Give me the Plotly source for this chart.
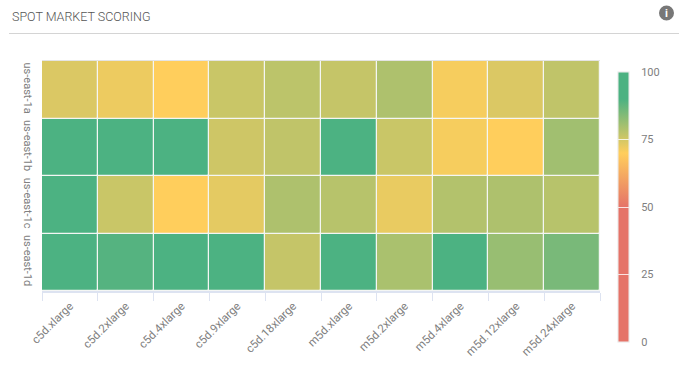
import plotly.graph_objects as go

instances = ["c5d.xlarge", "c5d.2xlarge", "c5d.4xlarge", "c5d.9xlarge", "c5d.18xlarge",
             "m5d.xlarge", "m5d.2xlarge", "m5d.4xlarge", "m5d.12xlarge", "m5d.24xlarge"]
zones = ["us-east-1a", "us-east-1b", "us-east-1c", "us-east-1d"]
us_east_1a = [74, 72, 70, 76, 77.5, 76.5, 79, 71, 74, 77]
us_east_1b = [92, 92, 92, 75.5, 77, 92, 76, 71, 70, 80.5]
us_east_1c = [92, 76, 70, 73, 79, 78, 72.5, 78.5, 79, 78]
us_east_1d = [92, 89, 92, 92, 76.5, 92, 79.5, 93, 81.5, 85]
scores = [us_east_1a, us_east_1b, us_east_1c, us_east_1d]
colorbar_ticks = [0, 25, 50, 75, 100]

W, H = 684, 375
L, R, T, B = 42, 600, 61, 291
FONT = "Roboto, sans-serif"
to_x = lambda x: (x - L) / (R - L)
to_y = lambda y: (B - y) / (B - T)
label_font = dict(family=FONT, size=11, color="#808080")
axis_font = dict(family=FONT, size=11.5, color="#808080")
scale = [[0, "#E57368"], [0.5, "#E57368"], [0.7, "#FFCE5C"], [0.9, "#4CB282"], [1, "#4CB282"]]
bar_common = dict(
    thickness=11, thicknessmode="pixels", len=270, lenmode="pixels",
    x=to_x(617.5), xanchor="left", xpad=0,
    y=to_y(72), yanchor="top", ypad=0,
    outlinecolor="#eeeeee", outlinewidth=1, borderwidth=0,
    tickmode="array", tickvals=colorbar_ticks,
    tickfont=label_font,
)

fig = go.Figure()
# Colorbar carrying the labels, pushed away from the bar by invisible outside ticks.
fig.add_trace(go.Heatmap(
    z=scores, x=instances, y=zones, zmin=0, zmax=100, xgap=1.5, ygap=1.5,
    colorscale=scale, hoverinfo="skip",
    colorbar=dict(**bar_common, ticks="outside", ticklen=10, tickwidth=1, tickcolor="rgba(0,0,0,0)"),
))
# Same cells again; its colorbar carries the white dividers across the bar.
fig.add_trace(go.Heatmap(
    z=scores, x=instances, y=zones, zmin=0, zmax=100, xgap=1.5, ygap=1.5,
    colorscale=scale, hoverinfo="skip",
    colorbar=dict(**bar_common, ticks="inside", ticklen=11, tickwidth=1,
                  tickcolor="rgba(255,255,255,0.8)", showticklabels=False),
))

fig.update_layout(
    width=W, height=H, autosize=False,
    margin=dict(l=L, r=W - R, t=T, b=H - B, pad=0),
    paper_bgcolor="white", plot_bgcolor="#f4f6f4",
    font=dict(family=FONT, size=11, color="#808080"),
    xaxis=dict(
        type="category", tickson="boundaries", ticks="outside", ticklen=8, tickwidth=1,
        tickcolor="#dde3f1", showline=True, linecolor="#dde3f1", linewidth=1.5,
        showgrid=False, zeroline=False, tickangle=-45, ticklabelstandoff=2,
        tickfont=axis_font,
    ),
    yaxis=dict(
        type="category", autorange="reversed", ticks="", showline=False,
        showgrid=False, zeroline=False, tickangle=90, ticklabelstandoff=6,
        tickfont=label_font,
    ),
    annotations=[
        dict(text="SPOT MARKET SCORING", xref="paper", yref="paper",
             x=to_x(9.5), y=to_y(16), xanchor="left", yanchor="middle",
             showarrow=False, font=dict(family=FONT, size=12.5, color="#555555", weight=300)),
        dict(text="<b>i</b>", xref="paper", yref="paper",
             x=to_x(666.5), y=to_y(13), xanchor="center", yanchor="middle",
             showarrow=False, font=dict(family=FONT, size=11, color="white")),
    ],
    shapes=[
        dict(type="line", xref="paper", yref="paper", x0=to_x(9), x1=to_x(679), y0=to_y(33.5), y1=to_y(33.5),
             line=dict(color="#d4d4d4", width=1), layer="below"),
        dict(type="line", xref="paper", yref="paper", x0=to_x(42), x1=to_x(600), y0=to_y(60.5), y1=to_y(60.5),
             line=dict(color="#e4e4e4", width=1), layer="below"),
        dict(type="circle", xref="paper", yref="paper", x0=to_x(659), x1=to_x(674), y0=to_y(5.5), y1=to_y(20.5),
             fillcolor="#777777", line=dict(width=0), layer="below"),
    ],
)

fig.write_html("out.html", config=dict(displayModeBar=False),
               post_script="document.body.style.margin='0';document.body.style.overflow='hidden';")
